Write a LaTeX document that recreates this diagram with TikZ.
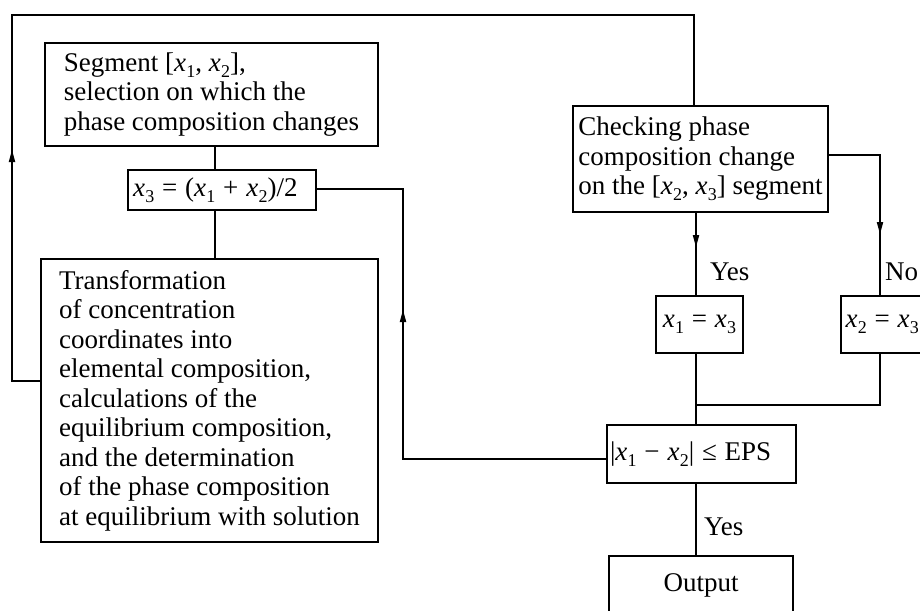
\documentclass[tikz,border=0pt]{standalone}
\usepackage{fontspec}
\setmainfont{Liberation Serif}
\usetikzlibrary{decorations.markings}

% italic variable with a lowered index
\newcommand{\vx}[1]{\textit{x}\kern0.01em\raisebox{-0.22em}{\fontsize{18}{18}\selectfont#1}}
% space around relations and binary operators
\newcommand{\opgap}{\hspace{0.29em}}

\tikzset{
  box/.style={draw, rectangle, inner sep=0pt, align=left},
  lbl/.style={inner sep=0pt, anchor=west},
  % narrow filled arrowhead whose tip sits at the given distance along the path
  midarrow/.style={postaction={decorate},
    decoration={markings,
      mark=at position #1 with {\fill (1,0) -- (-11,3.3) -- (-11,-3.3) -- cycle;}}}
}

\begin{document}
\begin{tikzpicture}[x=1pt, y=-1pt, line width=2pt,
  font=\fontsize{27}{29.5}\selectfont]
\useasboundingbox (0,0) rectangle (920,610);
\clip (0,0) rectangle (920,610);

% boxes
\node[box, minimum width=333, minimum height=103] (seg) at (211.5,94.5)
  {Segment [\vx1, \vx2],\\selection on which the\\phase composition changes};
\node[box, text width=178pt, inner xsep=5pt, minimum height=40] (mid) at (222,190)
  {\vx3\opgap=\opgap(\vx1\opgap+\opgap\vx2)/2};
\node[box, minimum width=337, minimum height=283] (trans) at (209.5,400.5)
  {Transformation\\of concentration\\coordinates into\\elemental composition,\\calculations of the\\equilibrium composition,\\and the determination\\of the phase composition\\at equilibrium with solution};
\node[box, minimum width=255, minimum height=106] (check) at (700.5,159)
  {Checking phase\\composition change\\on the [\vx2, \vx3] segment};
\node[box, minimum width=87, minimum height=57] (xa) at (699.5,324.5)
  {\vx1\opgap=\opgap\vx3};
\node[box, text width=78pt, inner xsep=4.5pt, minimum height=57] (xb) at (884.5,324.5)
  {\vx2\opgap=\opgap\vx3};
\node[box, text width=183pt, inner xsep=3pt, minimum height=58] (eps) at (701.5,454)
  {|\vx1\opgap−\opgap\vx2|\opgap≤\opgap EPS};
\node[box, minimum width=184, minimum height=59] (out) at (701,585.5) {Output};

% branch labels
\node[lbl] (yes1) at (709,272) {Yes};
\node[lbl] (no1) at (884,272) {No};
\node[lbl] (yes2) at (703,527) {Yes};

% routing coordinates
\coordinate (mx) at (215,0);
\coordinate (lx) at (12,0);
\coordinate (ty) at (0,15);
\coordinate (ly) at (0,381);
\coordinate (cx) at (694,0);
\coordinate (rx) at (403,0);
\coordinate (ey) at (0,459);
\coordinate (my) at (0,189);
\coordinate (yx) at (696,0);
\coordinate (nx) at (880,0);
\coordinate (ny) at (0,155);
\coordinate (jy) at (0,405);

% left column
\draw (seg.south -| mx) -- (mid.north -| mx);
\draw (mid.south -| mx) -- (trans.north -| mx);

% outer loop to the check
\draw[midarrow=258pt] (trans.west |- ly) -- (lx |- ly) -- (lx |- ty)
  -- (cx |- ty) -- (check.north -| cx);

% return from the tolerance test
\draw[midarrow=351pt] (eps.west |- ey) -- (rx |- ey) -- (rx |- my)
  -- (mid.east |- my);

% check branches
\draw[midarrow=33pt] (check.south -| yx) -- (xa.north -| yx);
\draw[midarrow=129pt] (check.east |- ny) -- (nx |- ny) -- (xb.north -| nx);

% merge into the tolerance test
\draw (xa.south -| yx) -- (eps.north -| yx);
\draw (xb.south -| nx) -- (nx |- jy) -- (yx |- jy);
\draw (eps.south -| yx) -- (out.north -| yx);
\end{tikzpicture}
\end{document}
